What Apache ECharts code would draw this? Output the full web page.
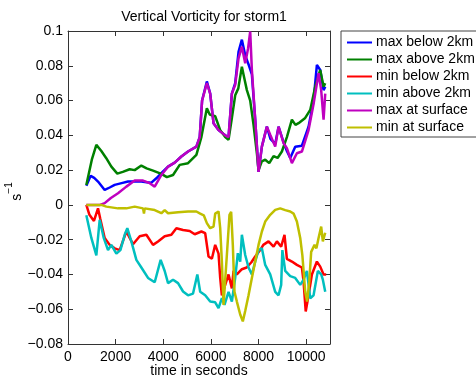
<!DOCTYPE html>
<html>
<head>
<meta charset="utf-8">
<script src="https://cdn.jsdelivr.net/npm/echarts@6/dist/echarts.min.js"></script>
<style>
  html, body { margin: 0; padding: 0; background: #ffffff; overflow: hidden; }
  #chart { width: 476px; height: 377px; }
</style>
</head>
<body>
<div id="chart"></div>
<script>
// Vertical vorticity extremes for storm1, [time (s), vorticity (1/s)]
const seriesNames = ['max below 2km', 'max above 2km', 'min below 2km', 'min above 2km', 'max at surface', 'min at surface'];
const seriesColors = ['#0000ff', '#008000', '#ff0000', '#00bfbf', '#bf00bf', '#bfbf00'];

const maxBelow2km = [[770,0.011],[950,0.0167],[1100,0.0155],[1260,0.0134],[1540,0.0086],[1750,0.0100],[1960,0.0115],[2250,0.0125],[2520,0.0134],[2800,0.0135],[3080,0.0134],[3300,0.0130],[3500,0.0128],[3710,0.0153],[3960,0.0188],[4200,0.022],[4480,0.0243],[4760,0.0278],[5040,0.0307],[5390,0.0335],[5530,0.039],[5630,0.060],[5830,0.071],[5970,0.064],[6110,0.047],[6320,0.043],[6600,0.040],[6740,0.039],[6880,0.064],[7020,0.070],[7160,0.088],[7300,0.095],[7440,0.086],[7600,0.080],[7720,0.075],[7860,0.049],[8000,0.019],[8140,0.0335],[8350,0.045],[8500,0.038],[8700,0.035],[8840,0.045],[9050,0.036],[9190,0.031],[9330,0.027],[9540,0.0335],[9820,0.034],[10100,0.045],[10310,0.060],[10450,0.0805],[10590,0.0776],[10730,0.066],[10800,0.068]];

const maxAbove2km = [[770,0.0115],[1000,0.026],[1190,0.0345],[1400,0.031],[1600,0.027],[1820,0.022],[2070,0.018],[2300,0.019],[2590,0.0205],[2800,0.020],[3080,0.0226],[3300,0.021],[3570,0.0197],[3920,0.0178],[4150,0.016],[4410,0.0172],[4690,0.023],[5040,0.024],[5390,0.0288],[5600,0.039],[5830,0.0556],[5950,0.052],[6180,0.051],[6390,0.043],[6600,0.039],[6740,0.0374],[6880,0.05],[7020,0.063],[7150,0.067],[7300,0.0795],[7400,0.073],[7510,0.066],[7650,0.060],[7790,0.046],[7930,0.0297],[8000,0.020],[8140,0.025],[8280,0.026],[8450,0.024],[8630,0.028],[8800,0.027],[8980,0.0307],[9190,0.039],[9400,0.049],[9550,0.046],[9680,0.047],[9960,0.050],[10170,0.0546],[10380,0.068],[10590,0.0776],[10730,0.068],[10800,0.070]];

const minBelow2km = [[770,0],[900,-0.0057],[1090,-0.0092],[1260,-0.002],[1350,-0.0077],[1540,-0.019],[1750,-0.023],[1960,-0.025],[2170,-0.026],[2450,-0.0153],[2590,-0.019],[2730,-0.0226],[3010,-0.018],[3290,-0.0172],[3570,-0.023],[3780,-0.021],[4060,-0.018],[4340,-0.0172],[4550,-0.0134],[4830,-0.0144],[5110,-0.015],[5320,-0.0169],[5600,-0.0153],[5760,-0.0163],[5900,-0.0297],[6040,-0.031],[6180,-0.023],[6320,-0.028],[6390,-0.042],[6460,-0.052],[6600,-0.046],[6740,-0.040],[6880,-0.048],[6950,-0.038],[7090,-0.040],[7300,-0.037],[7500,-0.036],[7700,-0.033],[7860,-0.0297],[8070,-0.026],[8200,-0.023],[8420,-0.021],[8630,-0.024],[8770,-0.021],[8950,-0.024],[9090,-0.0172],[9190,-0.031],[9400,-0.0326],[9610,-0.0345],[9820,-0.036],[9890,-0.044],[9980,-0.0613],[10100,-0.052],[10240,-0.040],[10450,-0.0326],[10590,-0.0355],[10730,-0.040],[10840,-0.040]];

const minAbove2km = [[770,-0.006],[980,-0.019],[1190,-0.029],[1330,-0.0086],[1500,-0.019],[1680,-0.026],[1820,-0.023],[2030,-0.028],[2200,-0.026],[2380,-0.0172],[2490,-0.0134],[2660,-0.021],[2870,-0.0316],[3080,-0.036],[3360,-0.042],[3640,-0.0445],[3890,-0.0316],[4060,-0.038],[4200,-0.045],[4410,-0.043],[4620,-0.045],[4830,-0.0498],[5040,-0.052],[5250,-0.051],[5430,-0.040],[5550,-0.050],[5760,-0.052],[5970,-0.0556],[6180,-0.056],[6320,-0.0594],[6460,-0.0537],[6570,-0.0575],[6740,-0.050],[6880,-0.0556],[7020,-0.042],[7130,-0.0278],[7230,-0.0326],[7300,-0.0172],[7440,-0.0288],[7580,-0.036],[7720,-0.040],[7860,-0.0326],[8000,-0.026],[8140,-0.025],[8280,-0.0345],[8490,-0.040],[8700,-0.050],[8840,-0.052],[8950,-0.046],[9000,-0.026],[9120,-0.038],[9330,-0.041],[9540,-0.042],[9750,-0.046],[9890,-0.043],[10030,-0.038],[10170,-0.0537],[10310,-0.052],[10490,-0.038],[10630,-0.040],[10700,-0.043],[10800,-0.050]];

const maxAtSurface = [[770,0],[1345,0],[1540,0.001],[1800,0.004],[2100,0.0067],[2450,0.0105],[2800,0.014],[3150,0.014],[3430,0.0125],[3640,0.0105],[3920,0.0172],[4200,0.022],[4480,0.0243],[4760,0.0278],[5040,0.0307],[5390,0.0335],[5530,0.039],[5630,0.060],[5830,0.070],[5970,0.064],[6110,0.047],[6320,0.043],[6600,0.040],[6740,0.039],[6880,0.064],[7020,0.069],[7160,0.0843],[7300,0.091],[7440,0.0815],[7560,0.090],[7650,0.0997],[7720,0.0776],[7860,0.049],[8000,0.019],[8140,0.0335],[8350,0.045],[8500,0.040],[8700,0.0335],[8840,0.045],[9050,0.0355],[9190,0.0326],[9400,0.024],[9610,0.0297],[9820,0.0307],[10100,0.043],[10310,0.058],[10520,0.0757],[10630,0.066],[10730,0.049],[10800,0.064]];

const minAtSurface = [[770,0],[1400,0],[1610,-0.001],[2100,-0.002],[2450,-0.002],[2800,-0.001],[3150,-0.002],[3190,-0.005],[3220,-0.002],[3640,-0.003],[3920,-0.0048],[4060,-0.003],[4200,-0.0048],[4620,-0.0042],[5040,-0.0038],[5390,-0.0038],[5550,-0.005],[5700,-0.006],[5830,-0.0105],[5970,-0.0134],[6110,-0.0125],[6180,-0.005],[6320,-0.0038],[6390,-0.0134],[6460,-0.0326],[6530,-0.0575],[6670,-0.0288],[6780,-0.0057],[6850,-0.004],[6920,-0.023],[6990,-0.050],[7090,-0.0556],[7230,-0.063],[7340,-0.067],[7440,-0.061],[7580,-0.052],[7720,-0.042],[7860,-0.0326],[8000,-0.023],[8140,-0.0153],[8280,-0.0096],[8490,-0.0057],[8700,-0.0029],[8910,-0.002],[9120,-0.003],[9330,-0.0038],[9470,-0.005],[9610,-0.0096],[9750,-0.019],[9840,-0.029],[9960,-0.050],[10040,-0.0556],[10130,-0.044],[10210,-0.027],[10350,-0.023],[10430,-0.025],[10520,-0.019],[10630,-0.0125],[10700,-0.021],[10800,-0.016]];

const seriesData = [maxBelow2km, maxAbove2km, minBelow2km, minAbove2km, maxAtSurface, minAtSurface];

const yTickValues = [-0.08, -0.06, -0.04, -0.02, 0, 0.02, 0.04, 0.06, 0.08, 0.1];
const yTickLabels = ['\u22120.08', '\u22120.06', '\u22120.04', '\u22120.02', '0', '0.02', '0.04', '0.06', '0.08', '0.1'];
const xTickLabels = ['0', '2000', '4000', '6000', '8000', '10000'];

const FONT = '"Liberation Sans", Arial, sans-serif';
const AXIS_COLOR = '#333333';

function yLabel(v) {
  for (let i = 0; i < yTickValues.length; i++) {
    if (Math.abs(yTickValues[i] - v) < 1e-9) return yTickLabels[i];
  }
  return '';
}

function xLabel(v) {
  const i = Math.round(v / 2000);
  return Math.abs(i * 2000 - v) < 1e-6 && i < xTickLabels.length ? xTickLabels[i] : '';
}

const chart = echarts.init(document.getElementById('chart'), null, { renderer: 'canvas' });

const tickStyle = { show: true, inside: true, length: 5, lineStyle: { color: AXIS_COLOR, width: 1 } };
const lineStyle = { lineStyle: { color: AXIS_COLOR, width: 1 } };

chart.setOption({
  backgroundColor: '#ffffff',
  animation: false,
  title: {
    text: 'Vertical Vorticity for storm1',
    left: 199,
    top: 5,
    textAlign: 'center',
    textStyle: { fontFamily: FONT, fontSize: 14, fontWeight: 'normal', color: '#000' }
  },
  legend: {
    data: seriesNames,
    orient: 'vertical',
    left: 341,
    top: 31,
    padding: [3, 8, 1, 6],
    itemGap: 0,
    itemWidth: 25,
    itemHeight: 2,
    icon: 'rect',
    backgroundColor: '#ffffff',
    borderColor: '#444444',
    borderWidth: 1,
    borderRadius: 0,
    textStyle: { fontFamily: FONT, fontSize: 14, color: '#000', lineHeight: 17, padding: [0, 0, 0, -1] }
  },
  grid: { left: 68, top: 31, right: 146, bottom: 33, containLabel: false, outerBoundsMode: 'none' },
  xAxis: [
    {
      type: 'value', min: 0, max: 11000, interval: 2000,
      name: 'time in seconds', nameLocation: 'middle', nameGap: 20, nameMoveOverlap: false,
      nameTextStyle: { fontFamily: FONT, fontSize: 14, color: '#000' },
      axisLine: Object.assign({ show: true, onZero: false }, lineStyle),
      axisTick: tickStyle,
      axisLabel: { fontFamily: FONT, fontSize: 14, color: '#000', margin: 6, showMaxLabel: false, formatter: xLabel },
      splitLine: { show: false }
    },
    {
      type: 'value', position: 'top', min: 0, max: 11000, interval: 2000,
      axisLine: Object.assign({ show: true, onZero: false }, lineStyle),
      axisTick: tickStyle,
      axisLabel: { show: false },
      splitLine: { show: false }
    }
  ],
  yAxis: [
    {
      type: 'value', min: -0.08, max: 0.1, interval: 0.02,
      name: '{b|s}{sup|\u22121}', nameLocation: 'middle', nameGap: 44, nameRotate: 90, nameMoveOverlap: false,
      nameTextStyle: {
        fontFamily: FONT, color: '#000',
        padding: [0, 8, 0, 0],
        rich: {
          b: { fontFamily: FONT, fontSize: 14, color: '#000', lineHeight: 20, verticalAlign: 'bottom' },
          sup: { fontFamily: FONT, fontSize: 10, color: '#000', lineHeight: 20, verticalAlign: 'top' }
        }
      },
      axisLine: Object.assign({ show: true, onZero: false }, lineStyle),
      axisTick: tickStyle,
      axisLabel: { fontFamily: FONT, fontSize: 14, color: '#000', margin: 5, formatter: yLabel },
      splitLine: { show: false }
    },
    {
      type: 'value', position: 'right', min: -0.08, max: 0.1, interval: 0.02,
      axisLine: Object.assign({ show: true, onZero: false }, lineStyle),
      axisTick: tickStyle,
      axisLabel: { show: false },
      splitLine: { show: false }
    }
  ],
  series: seriesNames.map((name, i) => ({
    name: name,
    type: 'line',
    data: seriesData[i],
    xAxisIndex: 0,
    yAxisIndex: 0,
    showSymbol: false,
    symbol: 'none',
    color: seriesColors[i],
    lineStyle: { color: seriesColors[i], width: 2.5 },
    z: 2 + i
  }))
});
</script>
</body>
</html>
